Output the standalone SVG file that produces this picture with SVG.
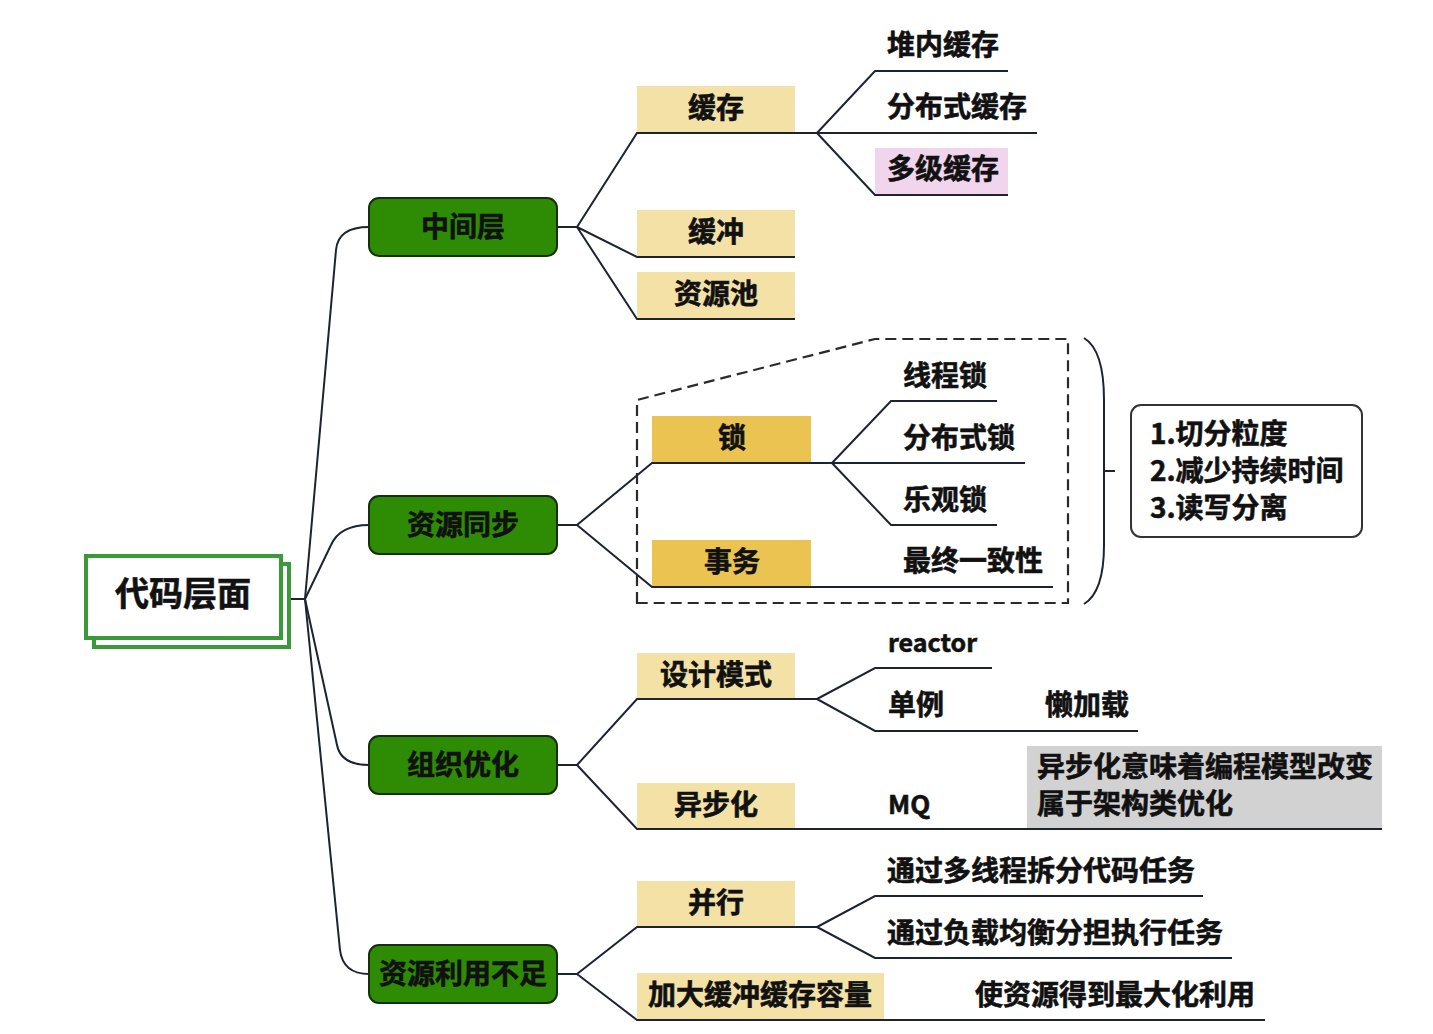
<svg xmlns="http://www.w3.org/2000/svg" width="1433" height="1034" viewBox="0 0 1433 1034">
<style>
text{font-family:"Noto Sans CJK SC","Liberation Sans",sans-serif;font-weight:700;fill:#111;stroke:#111;stroke-width:0.6;}
.t{font-size:28px;}
.c{text-anchor:middle;}
.ln{fill:none;stroke:#1c2433;stroke-width:2;}
.g rect{fill:#2e8c04;stroke:#17300c;stroke-width:2;}
.tan{fill:#f3e1a6;}
.gold{fill:#ebc351;}
</style>
<rect width="1433" height="1034" fill="#fff"/>
<g id="connectors" class="ln">
<path d="M289,599 H305"/>
<path d="M305,599 L336,250 Q338,227 369,227"/>
<path d="M305,599 L331,545 Q340,525 369,525"/>
<path d="M305,599 L337,745 Q341,765 369,765"/>
<path d="M305,599 L340,950 Q343,974 369,974"/>
<path d="M557,227 H577 L637,133 H817 M577,227 L637,257 H795 M577,227 L637,319 H795"/>
<path d="M817,133 L875,71 H1008 M817,133 H1037 M817,133 L875,195 H1008"/>
<path d="M557,525 H577 L652,463 H832 M577,525 L652,587 H1053"/>
<path d="M832,463 L891,401 H997 M832,463 H1025 M832,463 L891,525 H997"/>
<path d="M557,765 H577 L637,699 H817 M577,765 L637,829 H1382"/>
<path d="M817,699 L875,668 H992 M817,699 L875,731 H1138"/>
<path d="M557,974 H577 L637,927 H817 M577,974 L637,1020 H1265"/>
<path d="M817,927 L875,896 H1203 M817,927 L875,958 H1232"/>
</g>
<g id="root">
<rect x="94" y="564" width="195" height="83" fill="#fff" stroke="#3a9a3a" stroke-width="4"/>
<rect x="86" y="556" width="195" height="82" fill="#fff" stroke="#3a9a3a" stroke-width="4"/>
<text x="183" y="606" class="c" font-size="34">代码层面</text>
</g>
<g id="n-zjc" class="g"><rect x="369" y="198" width="188" height="58" rx="10"/><text x="463" y="237" class="t c">中间层</text></g>
<g id="n-zytb" class="g"><rect x="369" y="496" width="188" height="58" rx="10"/><text x="463" y="535" class="t c">资源同步</text></g>
<g id="n-zzyh" class="g"><rect x="369" y="736" width="188" height="58" rx="10"/><text x="463" y="775" class="t c">组织优化</text></g>
<g id="n-zylybz" class="g"><rect x="369" y="945" width="188" height="58" rx="10"/><text x="463" y="984" class="t c">资源利用不足</text></g>
<g id="n-hc"><rect x="637" y="86" width="158" height="46" class="tan"/><text x="716" y="118" class="t c">缓存</text></g>
<g id="n-dnhc"><text x="887" y="55" class="t">堆内缓存</text></g>
<g id="n-fbshc"><text x="887" y="117" class="t">分布式缓存</text></g>
<g id="n-djhc"><rect x="875" y="148" width="133" height="46" fill="#f0d5ec"/><text x="887" y="179" class="t">多级缓存</text></g>
<g id="n-hchong"><rect x="637" y="210" width="158" height="46" class="tan"/><text x="716" y="242" class="t c">缓冲</text></g>
<g id="n-zyc"><rect x="637" y="272" width="158" height="46" class="tan"/><text x="716" y="304" class="t c">资源池</text></g>
<g id="n-dashed"><path d="M637,603 V400 L875,339 H1068 V603 Z" fill="none" stroke="#2a2a2a" stroke-width="2.2" stroke-dasharray="11 6"/></g>
<g id="n-suo"><rect x="652" y="416" width="159" height="46" class="gold"/><text x="732" y="448" class="t c">锁</text></g>
<g id="n-xcs"><text x="903" y="386" class="t">线程锁</text></g>
<g id="n-fbss"><text x="903" y="448" class="t">分布式锁</text></g>
<g id="n-lgs"><text x="903" y="510" class="t">乐观锁</text></g>
<g id="n-sw"><rect x="652" y="540" width="159" height="46" class="gold"/><text x="732" y="572" class="t c">事务</text></g>
<g id="n-zzyzx"><text x="903" y="571" class="t">最终一致性</text></g>
<g id="n-brace"><path d="M1084,338 Q1104,350 1104,400 V545 Q1104,592 1084,604 M1104,471 H1115" class="ln"/></g>
<g id="n-note">
<rect x="1131" y="405" width="231" height="132" rx="10" fill="#fff" stroke="#333" stroke-width="2"/>
<text x="1150" y="444" class="t">1.切分粒度</text>
<text x="1150" y="481" class="t">2.减少持续时间</text>
<text x="1150" y="518" class="t">3.读写分离</text>
</g>
<g id="n-sjms"><rect x="637" y="653" width="158" height="45" class="tan"/><text x="716" y="685" class="t c">设计模式</text></g>
<g id="n-reactor"><text x="888" y="652" font-size="25">reactor</text></g>
<g id="n-dl"><text x="888" y="715" class="t">单例</text></g>
<g id="n-ljz"><text x="1045" y="715" class="t">懒加载</text></g>
<g id="n-ybh"><rect x="637" y="783" width="158" height="45" class="tan"/><text x="716" y="815" class="t c">异步化</text></g>
<g id="n-mq"><text x="888" y="814" font-size="26">MQ</text></g>
<g id="n-ybnote"><rect x="1027" y="746" width="355" height="82" fill="#d2d2d2"/><text x="1037" y="777" class="t">异步化意味着编程模型改变</text><text x="1037" y="814" class="t">属于架构类优化</text></g>
<g id="n-bx"><rect x="637" y="881" width="158" height="45" class="tan"/><text x="716" y="913" class="t c">并行</text></g>
<g id="n-dxc"><text x="887" y="881" class="t">通过多线程拆分代码任务</text></g>
<g id="n-fzjh"><text x="887" y="943" class="t">通过负载均衡分担执行任务</text></g>
<g id="n-jdhc"><rect x="637" y="973" width="247" height="46" class="tan"/><text x="760" y="1005" class="t c">加大缓冲缓存容量</text></g>
<g id="n-zdh"><text x="975" y="1005" class="t">使资源得到最大化利用</text></g>
</svg>
